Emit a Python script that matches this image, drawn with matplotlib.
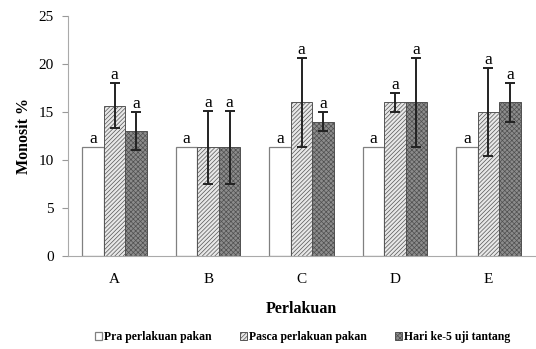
import numpy as np
import matplotlib
matplotlib.use('Agg')
import matplotlib.pyplot as plt

groups = ['A', 'B', 'C', 'D', 'E']
labels = ['Pra perlakuan pakan', 'Pasca perlakuan pakan', 'Hari ke-5 uji tantang']
pra = [11.33, 11.33, 11.33, 11.33, 11.33]
pasca = [15.67, 11.33, 16.0, 16.0, 15.0]
hari = [13.0, 11.33, 14.0, 16.0, 16.0]
pasca_err = [2.31, 3.79, 4.62, 1.0, 4.58]
hari_err = [2.0, 3.79, 1.0, 4.62, 2.0]

plt.rcParams['font.family'] = ['Liberation Serif', 'DejaVu Serif']
plt.rcParams['hatch.linewidth'] = 0.5

fig = plt.figure(figsize=(5.36, 3.49), dpi=100)
ax = fig.add_axes([68/536, 93/349, 467/536, 240/349])

x = np.arange(len(groups))
w = 0.23
b1 = ax.bar(x - w, pra, w, color='white', edgecolor='#808080', linewidth=0.9, label=labels[0])
b2 = ax.bar(x, pasca, w, color='#e8e8e8', edgecolor='#555555', hatch='////////', linewidth=0.7, label=labels[1])
b3 = ax.bar(x + w, hari, w, color='#8c8c8c', edgecolor='#505050', hatch='xxxxxxx', linewidth=0.7, label=labels[2])
ax.errorbar(x, pasca, yerr=pasca_err, fmt='none', ecolor='#222222', elinewidth=1.4, capsize=3.5, capthick=1.4)
ax.errorbar(x + w, hari, yerr=hari_err, fmt='none', ecolor='#222222', elinewidth=1.4, capsize=3.5, capthick=1.4)

# huruf notasi di atas batang
for i in range(len(groups)):
    ax.text(x[i] - w, pra[i] + 0.05, 'a', ha='center', va='bottom', fontsize=12.5)
    ax.text(x[i], pasca[i] + pasca_err[i] + 0.0, 'a', ha='center', va='bottom', fontsize=12.5)
    ax.text(x[i] + w, hari[i] + hari_err[i] + 0.0, 'a', ha='center', va='bottom', fontsize=12.5)

ax.set_xlim(-0.5, 4.5)
ax.set_ylim(0, 25)
ax.set_yticks([0, 5, 10, 15, 20, 25])
ax.set_xticks(x)
ax.set_xticklabels(groups, fontsize=11)
ax.tick_params(axis='x', length=0, pad=12)
ax.tick_params(axis='y', length=4, color='#999999', labelsize=11, pad=6)
for s in ['top', 'right']:
    ax.spines[s].set_visible(False)
ax.spines['left'].set_color('#aaaaaa')
ax.spines['bottom'].set_color('#aaaaaa')
ax.set_ylabel('Monosit %', fontsize=11.5, fontweight='bold', labelpad=5)
ax.set_xlabel('Perlakuan', fontsize=11.5, fontweight='bold', labelpad=11)

fig.legend(handles=[b1, b2, b3], loc='center', bbox_to_anchor=(0.565, 0.034), ncol=3,
           frameon=False, prop={'size': 8.5, 'weight': 'bold'}, handlelength=0.55, handleheight=0.55,
           handletextpad=0.2, columnspacing=2.4)

fig.savefig('out.png', dpi=100)
